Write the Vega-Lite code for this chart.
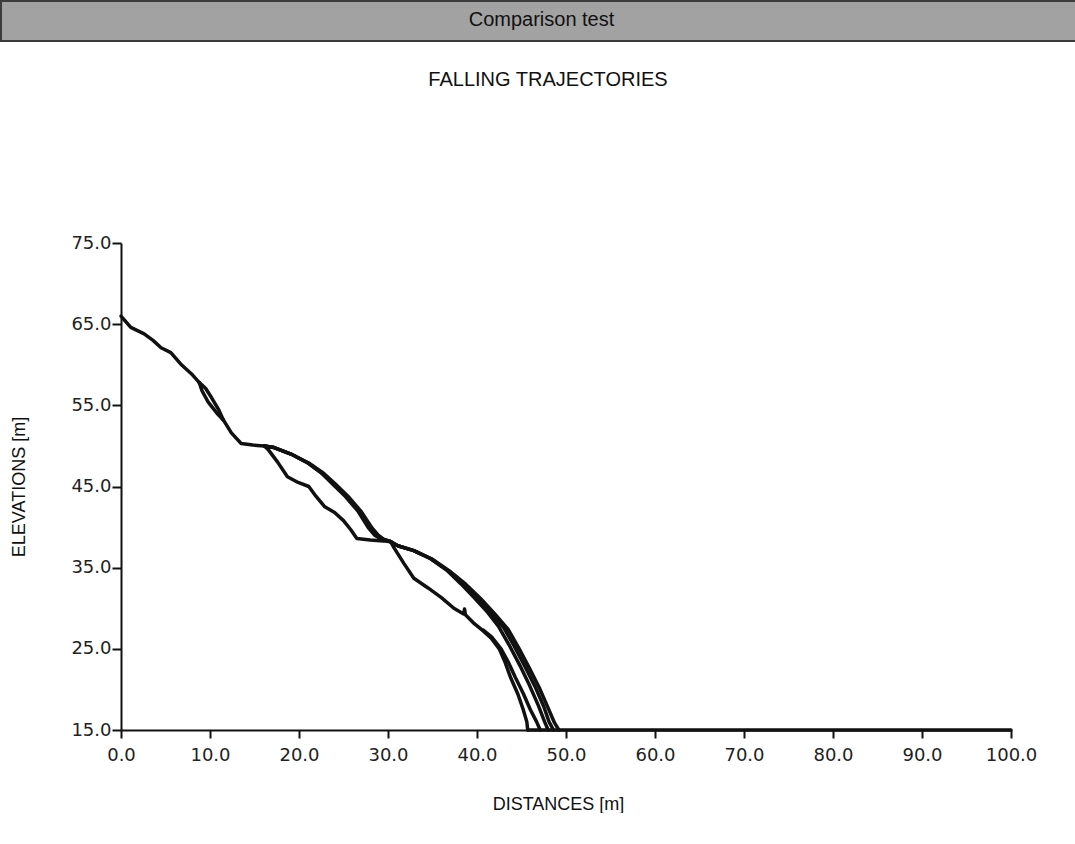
{
  "$schema": "https://vega.github.io/schema/vega-lite/v6.json",
  "padding": 0,
  "background": "white",
  "columns": 1,
  "bounds": "flush",
  "spacing": 202,
  "config": {"font": "Liberation Sans"},
  "concat": [
    {
      "width": 1075,
      "height": 40,
      "view": {"fill": "#a2a2a2", "stroke": "#3c3c3c", "strokeWidth": 2},
      "data": {"values": [{"label": "Comparison test"}]},
      "mark": {"type": "text", "font": "Liberation Sans", "fontSize": 20, "color": "#111", "dy": -1, "dx": 3},
      "encoding": {"text": {"field": "label"}}
    },
    {
      "bounds": "flush",
      "spacing": 119,
      "hconcat": [
        {
          "width": 1,
          "height": 487,
          "view": {"stroke": null},
          "data": {"values": []},
          "mark": "point"
        },
        {
          "width": 890,
          "height": 487,
          "view": {"stroke": null},
          "title": {"text": "FALLING TRAJECTORIES", "font": "Liberation Sans", "fontSize": 20, "fontWeight": "normal", "color": "#111", "offset": 144, "dx": -18},
          "data": {"values": [
            {"t":"s0","x":0,"y":66},{"t":"s0","x":1.1,"y":64.6},{"t":"s0","x":2.6,"y":63.8},{"t":"s0","x":3.6,"y":63},{"t":"s0","x":4.5,"y":62.1},{"t":"s0","x":5.6,"y":61.5},{"t":"s0","x":6.7,"y":60.1},{"t":"s0","x":7.9,"y":58.9},{"t":"s0","x":8.8,"y":57.8},
            {"t":"loopL","x":8.8,"y":57.8},{"t":"loopL","x":9.1,"y":56.8},{"t":"loopL","x":9.8,"y":55.4},{"t":"loopL","x":10.8,"y":54},{"t":"loopL","x":11.5,"y":53.2},
            {"t":"loopR","x":8.8,"y":57.8},{"t":"loopR","x":9.5,"y":57.1},{"t":"loopR","x":10.2,"y":55.9},{"t":"loopR","x":11,"y":54.4},{"t":"loopR","x":11.5,"y":53.2},
            {"t":"s1","x":11.5,"y":53.2},{"t":"s1","x":12.4,"y":51.6},{"t":"s1","x":13.5,"y":50.3},{"t":"s1","x":14.8,"y":50.1},{"t":"s1","x":16.1,"y":50},
            {"t":"low1","x":16.1,"y":50},{"t":"low1","x":16.5,"y":49.6},{"t":"low1","x":17.6,"y":48},{"t":"low1","x":18.7,"y":46.2},{"t":"low1","x":19.9,"y":45.5},{"t":"low1","x":21.1,"y":45},{"t":"low1","x":21.9,"y":43.8},{"t":"low1","x":22.9,"y":42.5},{"t":"low1","x":24,"y":41.8},{"t":"low1","x":25,"y":40.8},{"t":"low1","x":25.8,"y":39.7},{"t":"low1","x":26.5,"y":38.6},{"t":"low1","x":28,"y":38.4},{"t":"low1","x":29.5,"y":38.3},{"t":"low1","x":30.3,"y":38.2},
            {"t":"upC1","x":16.1,"y":50},{"t":"upC1","x":17.2,"y":49.8},{"t":"upC1","x":19.1,"y":49},{"t":"upC1","x":21,"y":47.9},{"t":"upC1","x":22.5,"y":46.7},{"t":"upC1","x":23.6,"y":45.5},{"t":"upC1","x":25.1,"y":43.9},{"t":"upC1","x":26.6,"y":42},{"t":"upC1","x":27.8,"y":39.9},{"t":"upC1","x":28.5,"y":39},{"t":"upC1","x":29.3,"y":38.5},{"t":"upC1","x":30.3,"y":38.2},
            {"t":"upD1","x":16.1,"y":50},{"t":"upD1","x":17.2,"y":49.8},{"t":"upD1","x":19.1,"y":49},{"t":"upD1","x":21,"y":47.9},{"t":"upD1","x":22.6,"y":46.6},{"t":"upD1","x":23.8,"y":45.4},{"t":"upD1","x":25.3,"y":43.8},{"t":"upD1","x":26.8,"y":41.9},{"t":"upD1","x":28,"y":39.9},{"t":"upD1","x":28.7,"y":39},{"t":"upD1","x":29.4,"y":38.5},{"t":"upD1","x":30.3,"y":38.2},
            {"t":"upE1","x":16.1,"y":50},{"t":"upE1","x":17.2,"y":49.8},{"t":"upE1","x":19.1,"y":49},{"t":"upE1","x":21.1,"y":47.9},{"t":"upE1","x":22.8,"y":46.6},{"t":"upE1","x":24,"y":45.4},{"t":"upE1","x":25.5,"y":43.8},{"t":"upE1","x":27,"y":41.9},{"t":"upE1","x":28.2,"y":39.9},{"t":"upE1","x":28.9,"y":39},{"t":"upE1","x":29.5,"y":38.5},{"t":"upE1","x":30.3,"y":38.2},
            {"t":"low2A","x":30.3,"y":38.2},{"t":"low2A","x":30.7,"y":37.4},{"t":"low2A","x":31.8,"y":35.5},{"t":"low2A","x":32.9,"y":33.7},{"t":"low2A","x":34.5,"y":32.5},{"t":"low2A","x":36,"y":31.3},{"t":"low2A","x":37.4,"y":30},{"t":"low2A","x":38.5,"y":29.3},{"t":"low2A","x":38.6,"y":29.9},{"t":"low2A","x":38.7,"y":29.2},{"t":"low2A","x":39.7,"y":28.1},{"t":"low2A","x":40.7,"y":27.2},{"t":"low2A","x":41.6,"y":26.3},{"t":"low2A","x":42.5,"y":25},{"t":"low2A","x":43.1,"y":23.5},{"t":"low2A","x":43.8,"y":21.4},{"t":"low2A","x":44.6,"y":19.4},{"t":"low2A","x":45.2,"y":17.5},{"t":"low2A","x":45.6,"y":16},{"t":"low2A","x":45.7,"y":15},
            {"t":"low2B","x":40.7,"y":27.3},{"t":"low2B","x":41.7,"y":26.4},{"t":"low2B","x":42.7,"y":25},{"t":"low2B","x":43.5,"y":23.4},{"t":"low2B","x":44.3,"y":21.5},{"t":"low2B","x":45.2,"y":19.5},{"t":"low2B","x":46,"y":17.5},{"t":"low2B","x":46.7,"y":16},{"t":"low2B","x":47.1,"y":15},
            {"t":"up2C","x":30.3,"y":38.2},{"t":"up2C","x":31.1,"y":37.7},{"t":"up2C","x":32.9,"y":37.1},{"t":"up2C","x":34.8,"y":36.1},{"t":"up2C","x":36.7,"y":34.6},{"t":"up2C","x":38.2,"y":33},{"t":"up2C","x":39.7,"y":31.3},{"t":"up2C","x":41.2,"y":29.5},{"t":"up2C","x":42.4,"y":27.8},{"t":"up2C","x":43.6,"y":25.5},{"t":"up2C","x":44.8,"y":23},{"t":"up2C","x":45.9,"y":20.5},{"t":"up2C","x":46.9,"y":18},{"t":"up2C","x":47.6,"y":16},{"t":"up2C","x":48,"y":15},
            {"t":"up2D","x":30.3,"y":38.2},{"t":"up2D","x":31.1,"y":37.7},{"t":"up2D","x":32.9,"y":37.1},{"t":"up2D","x":34.8,"y":36.1},{"t":"up2D","x":36.8,"y":34.6},{"t":"up2D","x":38.4,"y":33},{"t":"up2D","x":40,"y":31.2},{"t":"up2D","x":41.6,"y":29.4},{"t":"up2D","x":43,"y":27.6},{"t":"up2D","x":44.2,"y":25.3},{"t":"up2D","x":45.4,"y":22.8},{"t":"up2D","x":46.5,"y":20.4},{"t":"up2D","x":47.5,"y":17.9},{"t":"up2D","x":48.1,"y":16},{"t":"up2D","x":48.6,"y":15},
            {"t":"up2E","x":30.3,"y":38.2},{"t":"up2E","x":31.1,"y":37.7},{"t":"up2E","x":32.9,"y":37.1},{"t":"up2E","x":34.9,"y":36.1},{"t":"up2E","x":36.9,"y":34.6},{"t":"up2E","x":38.7,"y":33},{"t":"up2E","x":40.4,"y":31.2},{"t":"up2E","x":42,"y":29.3},{"t":"up2E","x":43.5,"y":27.4},{"t":"up2E","x":44.7,"y":25.1},{"t":"up2E","x":45.9,"y":22.6},{"t":"up2E","x":47,"y":20.2},{"t":"up2E","x":48,"y":17.7},{"t":"up2E","x":48.7,"y":15.9},{"t":"up2E","x":49.2,"y":15},
            {"t":"ground","x":45.7,"y":15},{"t":"ground","x":100,"y":15}
          ]},
          "mark": {"type": "line", "color": "#111", "strokeWidth": 3.5, "strokeJoin": "round", "strokeCap": "round", "clip": false},
          "encoding": {
            "x": {
              "field": "x", "type": "quantitative",
              "scale": {"domain": [0, 100], "nice": false, "zero": false},
              "axis": {
                "values": [0, 10, 20, 30, 40, 50, 60, 70, 80, 90, 100],
                "format": ".1f", "title": "DISTANCES [m]", "grid": false,
                "domainColor": "#111", "domainWidth": 2, "tickColor": "#111", "tickWidth": 2, "tickSize": 8,
                "labelFont": "DejaVu Sans", "labelFontSize": 18, "labelColor": "#222", "labelPadding": 8,
                "labelFlush": false, "labelOverlap": false,
                "titleFont": "Liberation Sans", "titleFontSize": 18, "titleFontWeight": "normal", "titleColor": "#111",
                "titlePadding": 31, "titleX": 437, "titleAlign": "center"
              }
            },
            "y": {
              "field": "y", "type": "quantitative",
              "scale": {"domain": [15, 75], "nice": false, "zero": false},
              "axis": {
                "values": [15, 25, 35, 45, 55, 65, 75],
                "format": ".1f", "title": "ELEVATIONS [m]", "grid": false,
                "domainColor": "#111", "domainWidth": 2, "tickColor": "#111", "tickWidth": 2, "tickSize": 9,
                "labelFont": "DejaVu Sans", "labelFontSize": 18, "labelColor": "#222", "labelPadding": 1,
                "labelFlush": false, "labelOverlap": false,
                "titleFont": "Liberation Sans", "titleFontSize": 18, "titleFontWeight": "normal", "titleColor": "#111", "titlePadding": 42
              }
            },
            "detail": {"field": "t"}
          }
        }
      ]
    }
  ]
}
